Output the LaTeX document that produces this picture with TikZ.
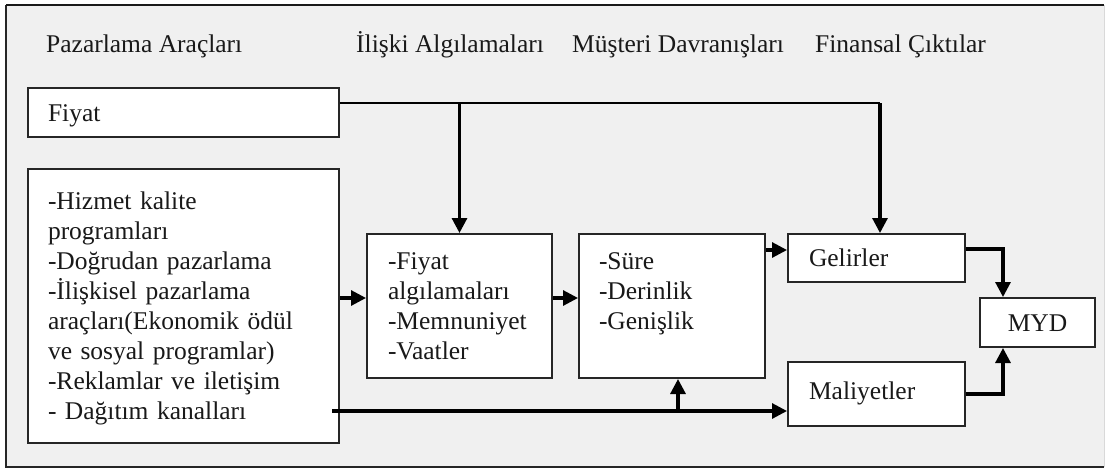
\documentclass[tikz,border=0pt]{standalone}
\usepackage{fontspec}
\setmainfont{Liberation Serif}
\usetikzlibrary{arrows.meta,calc}
\begin{document}
\begin{tikzpicture}[x=1pt,y=-1pt,
  txt/.style={font=\fontsize{25.5}{30}\selectfont, text=black!90},
  box/.style={txt, draw=black!85, line width=2pt, fill=white,
    anchor=north west, align=left, text height=17pt},
  conn/.style={line width=3.1pt, draw=black},
  arr/.style={conn, -{Triangle[length=15pt,width=15pt]}},
  head/.style={txt, anchor=base west, inner sep=0pt}]
\useasboundingbox (0,0) rectangle (1106,469);
% page and grey panel
\fill[white] (0,0) rectangle (1106,469);
\fill[black!6] (6,5) rectangle (1104,467);
\draw[line width=1.8pt, black!85] (1104,467) -- (6,467) -- (6,5);
\draw[line width=2.8pt, black!90] (6,5) -- (1104,5);
\draw[line width=1pt, black!15] (1104,5) -- (1104,467);

% column headings
\node[head] (h1) at (46,52) {Pazarlama Araçları};
\node[head] (h2) at (356,52) {İlişki Algılamaları};
\node[head] (h3) at (572,52) {Müşteri Davranışları};
\node[head] (h4) at (815,52) {Finansal Çıktılar};

% boxes
\node[box, text width=271pt, inner xsep=20pt, inner ysep=16pt, text depth=0pt]
  (fiyat) at (27,87) {Fiyat};
\node[box, text width=271pt, inner xsep=20pt, inner ysep=23pt, text depth=211pt]
  (tools) at (27,168) {-Hizmet kalite\\programları\\-Doğrudan pazarlama\\-İlişkisel pazarlama\\araçları(Ekonomik ödül\\ve sosyal programlar)\\-Reklamlar ve iletişim\\- Dağıtım kanalları};
\node[box, text width=143pt, inner xsep=21pt, inner ysep=18pt, text depth=91pt]
  (fa) at (366,233) {-Fiyat\\algılamaları\\-Memnuniyet\\-Vaatler};
\node[box, text width=146pt, inner xsep=20pt, inner ysep=18pt, text depth=91pt]
  (sure) at (578,233) {-Süre\\-Derinlik\\-Genişlik};
\node[box, text width=135pt, inner xsep=21pt, inner ysep=15.5pt, text depth=0pt]
  (gel) at (787,233) {Gelirler};
\node[box, text width=135pt, inner xsep=21pt, inner ysep=20pt, text depth=7pt]
  (mal) at (787,361) {Maliyetler};
\node[box, text width=95pt, inner xsep=10pt, inner ysep=16pt, text depth=0pt, align=center]
  (myd) at (979,297) {MYD};

% price line feeding perceptions and revenues
\coordinate (fT) at ($(fiyat.north east)+(0,16)$);
\coordinate (gJ) at ($(gel.north)+(3.5,0)$);
\draw[conn, line width=2.2pt] (fT) -- (fT -| gJ);
\draw[arr] (fT -| gJ) -- (gJ);
\draw[arr] (fT -| fa.north) -- (fa.north);

% main chain
\coordinate (aL) at ($(fa.west)+(0,-8)$);
\draw[arr] (aL -| tools.east) -- (aL);
\coordinate (aR) at ($(sure.west)+(0,-8)$);
\draw[arr] (aR -| fa.east) -- (aR);
\coordinate (gL) at ($(gel.west)+(0,-8)$);
\draw[arr] (gL -| sure.east) -- (gL);

% lower line to costs, with branch to behaviour
\coordinate (bS) at ($(tools.east |- mal.south)+(-8,-16)$);
\draw[arr] (bS) -- (bS -| mal.west);
\coordinate (bB) at ($(sure.south)+(6,0)$);
\draw[arr] (bB |- bS) -- (bB);

% outcomes into MYD
\coordinate (mT) at ($(myd.north)+(-34.5,0)$);
\draw[arr] ($(gel.east)+(0,-9)$) -| (mT);
\coordinate (mB) at ($(myd.south)+(-34.5,0)$);
\draw[arr] (mal.east) -| (mB);
\end{tikzpicture}
\end{document}
